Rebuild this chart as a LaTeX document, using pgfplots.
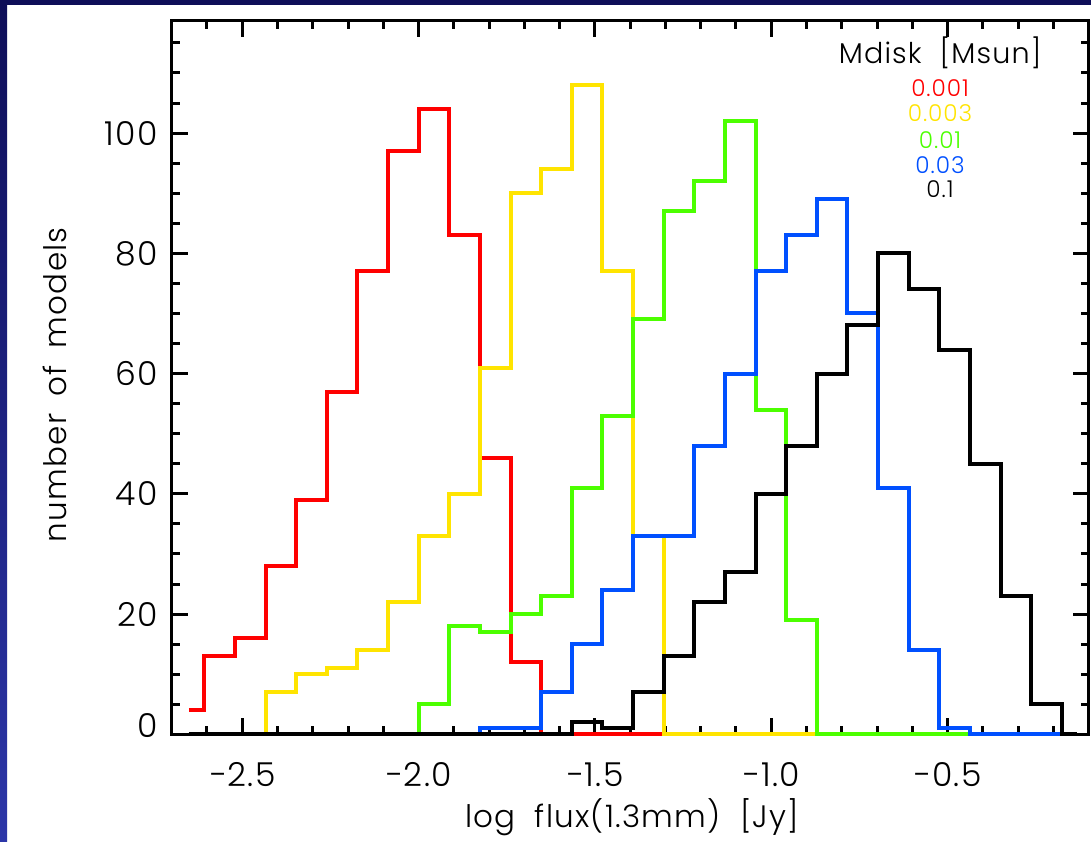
\documentclass[border=0pt]{standalone}
\usepackage{fontspec}
\setmainfont{Poppins Light}[LetterSpace=4]
\usepackage{pgfplots}
\usepackage{pgfplotstable}
\pgfplotsset{compat=1.18}

\definecolor{hred}{HTML}{FF0000}
\definecolor{hyellow}{HTML}{FFE400}
\definecolor{hgreen}{HTML}{4CFF00}
\definecolor{hblue}{HTML}{0050FF}
\definecolor{navy}{HTML}{0E0E58}
\definecolor{edgeblue}{HTML}{2C36A8}

% histogram counts per log-flux bin (bin centres), one column per disk mass
\pgfplotstableread{
x       red yellow green blue black
-2.6511   4   0   0   0   0
-2.5642  13   0   0   0   0
-2.4773  16   0   0   0   0
-2.3905  28   7   0   0   0
-2.3036  39  10   0   0   0
-2.2168  57  11   0   0   0
-2.1300  77  14   0   0   0
-2.0431  97  22   0   0   0
-1.9563 104  33   5   0   0
-1.8694  83  40  18   0   0
-1.7826  46  61  17   1   0
-1.6958  12  90  20   1   0
-1.6089   0  94  23   7   0
-1.5221   0 108  41  15   2
-1.4353   0  77  53  24   1
-1.3484   0  33  69  33   7
-1.2616   0   0  87  33  13
-1.1747   0   0  92  48  22
-1.0879   0   0 102  60  27
-1.0011   0   0  54  77  40
-0.9142   0   0  19  83  48
-0.8274   0   0   0  89  60
-0.7405   0   0   0  70  68
-0.6537   0   0   0  41  80
-0.5669   0   0   0  14  74
-0.4800   0   0   0   1  64
-0.3932   0   0   0   0  45
-0.3063   0   0   0   0  23
-0.2195   0   0   0   0   5
-0.1327   0   0   0   0   0
}\fluxtab

\begin{document}
\begin{tikzpicture}
\path[use as bounding box, fill=white] (0,0) rectangle (545.5pt,420.5pt);
\shade[top color=navy, bottom color=edgeblue] (0,0) rectangle (3.5pt,420.5pt);
\fill[navy] (0,418pt) rectangle (545.5pt,420.5pt);
\begin{axis}[
  at={(85.85pt,53.35pt)}, anchor=south west,
  scale only axis, width=458.45pt, height=356.8pt,
  xmin=-2.7, xmax=-0.1, ymin=0, ymax=118.7,
  xtick={-2.5,-2,-1.5,-1,-0.5},
  xticklabels={−2.5,−2.0,−1.5,−1.0,−0.5},
  minor xtick={-2.6,-2.4,-2.3,-2.2,-2.1,-1.9,-1.8,-1.7,-1.6,-1.4,-1.3,-1.2,-1.1,-0.9,-0.8,-0.7,-0.6,-0.4,-0.3,-0.2},
  ytick={0,20,40,60,80,100},
  yticklabels={\raisebox{9pt}{0},20,40,60,80,100},
  minor ytick={5,10,15,25,30,35,45,50,55,65,70,75,85,90,95,105,110,115},
  axis line style={line width=1.5pt},
  tick style={line width=1.5pt, black},
  major tick length=8pt, minor tick length=4pt,
  tick label style={font=\fontsize{16.5}{19}\selectfont},
  xticklabel style={anchor=base, yshift=-26.3pt},
  yticklabel style={anchor=east, inner sep=0pt, xshift=-6.8pt},
  xlabel={log\ \ flux(1.3mm)\ \ [Jy]},
  ylabel={number\hspace{0.55em}of\hspace{0.55em}models},
  label style={font=\fontsize{15.5}{18}\selectfont},
  xlabel style={at={(rel axis cs:0.502,-0.130)}, anchor=base},
  ylabel style={at={(rel axis cs:-0.1145,0.49)}, anchor=base},
  clip=false,
]
\addplot[const plot mark mid, hred, line width=2pt] table[x=x, y=red] {\fluxtab};
\addplot[const plot mark mid, hyellow, line width=2pt] table[x=x, y=yellow] {\fluxtab};
\addplot[const plot mark mid, hgreen, line width=2pt] table[x=x, y=green] {\fluxtab};
\addplot[const plot mark mid, hblue, line width=2pt] table[x=x, y=blue] {\fluxtab};
\addplot[const plot mark mid, black, line width=2pt] table[x=x, y=black] {\fluxtab};

\node[anchor=base, font=\fontsize{14.3}{17}\selectfont] at (rel axis cs:0.838,0.9403) {Mdisk\ \ [Msun]};
\node[anchor=base, font=\fontsize{11.6}{14}\selectfont, text=hred] at (rel axis cs:0.838,0.8935) {0.001};
\node[anchor=base, font=\fontsize{11.6}{14}\selectfont, text=hyellow] at (rel axis cs:0.838,0.8585) {0.003};
\node[anchor=base, font=\fontsize{11.6}{14}\selectfont, text=hgreen] at (rel axis cs:0.838,0.8212) {0.01};
\node[anchor=base, font=\fontsize{11.6}{14}\selectfont, text=hblue] at (rel axis cs:0.838,0.7861) {0.03};
\node[anchor=base, font=\fontsize{11.6}{14}\selectfont, text=black] at (rel axis cs:0.838,0.7525) {0.1};
\end{axis}
\end{tikzpicture}
\end{document}
